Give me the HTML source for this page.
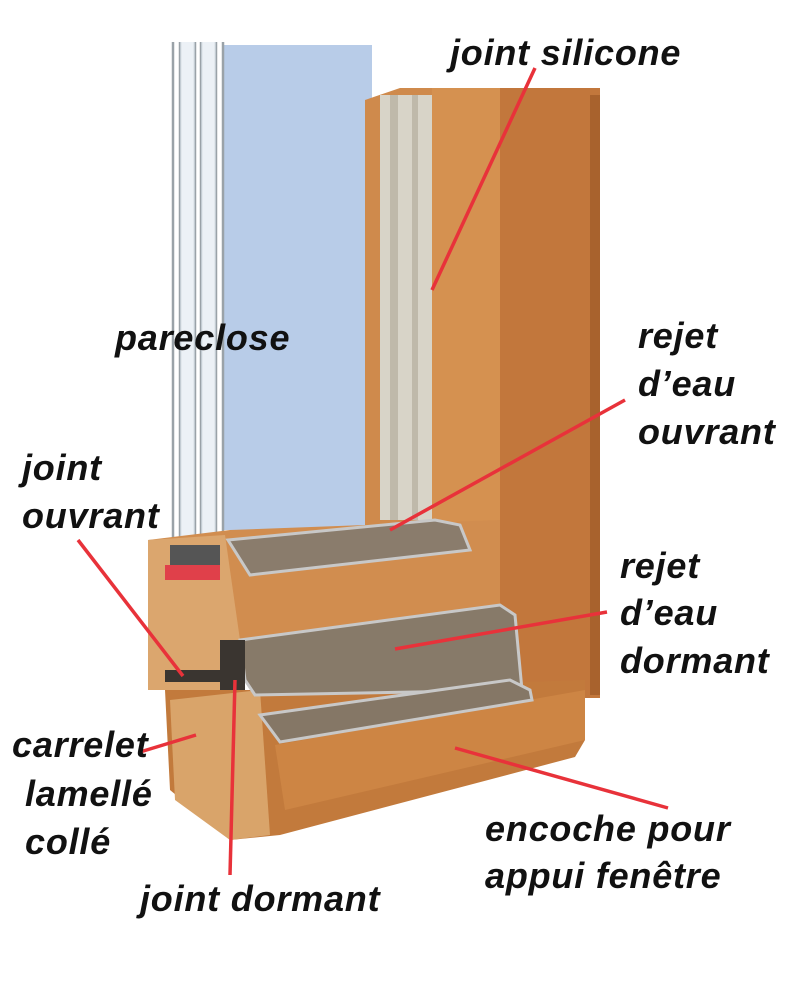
<!DOCTYPE html>
<html><head><meta charset="utf-8"><style>
html,body{margin:0;padding:0;background:#fff}
svg{display:block}
text{font-family:"Liberation Sans",sans-serif;font-style:italic;font-weight:bold;font-size:36px;letter-spacing:0.8px;fill:#111}
</style></head><body>
<svg width="794" height="989" viewBox="0 0 794 989">
<!-- glass -->
<rect x="222" y="45" width="150" height="485" fill="#b8cce8"/>
<g stroke="#9aa2a8" stroke-width="2.5" fill="none">
<line x1="173" y1="42" x2="173" y2="545"/><line x1="180" y1="42" x2="180" y2="545"/>
<line x1="195" y1="42" x2="195" y2="545"/><line x1="201" y1="42" x2="201" y2="545"/>
<line x1="216" y1="42" x2="216" y2="545"/><line x1="223" y1="42" x2="223" y2="545"/>
</g>
<rect x="180" y="42" width="15" height="500" fill="#dfe8f0" opacity=".6"/>
<rect x="201" y="42" width="15" height="500" fill="#dfe8f0" opacity=".6"/>
<!-- outer frame vertical -->
<rect x="500" y="88" width="100" height="610" fill="#c2773c"/>
<rect x="590" y="95" width="10" height="600" fill="#a8622d"/>
<!-- sash vertical -->
<polygon points="365,100 400,88 500,88 500,530 365,530" fill="#cf8a4c"/>
<rect x="380" y="95" width="52" height="425" fill="#d8d4c8"/>
<rect x="390" y="95" width="8" height="425" fill="#bfb9aa"/>
<rect x="412" y="95" width="6" height="425" fill="#bfb9aa"/>
<rect x="432" y="88" width="68" height="440" fill="#d59150"/>
<!-- bottom sash -->
<polygon points="148,540 230,530 500,520 500,640 148,640" fill="#d18d4f"/>
<polygon points="148,540 225,535 240,640 220,690 148,690" fill="#dba66e"/>
<rect x="165" y="565" width="55" height="15" fill="#e0404a"/>
<rect x="170" y="545" width="50" height="20" fill="#555"/>
<!-- bottom frame -->
<polygon points="165,690 280,690 585,680 585,740 575,757 280,835 230,840 170,790" fill="#c27a3c"/>
<polygon points="170,700 260,690 270,835 230,840 175,800" fill="#d9a46a"/>
<polygon points="275,745 585,690 585,740 285,810" fill="#cd8544"/>
<!-- aluminium rails -->
<polygon points="228,540 435,520 460,525 470,550 250,575" fill="#8a7c6c" stroke="#c8c8c8" stroke-width="3"/>
<polygon points="240,640 500,605 515,615 522,690 255,695 245,680" fill="#877a69" stroke="#c8c8c8" stroke-width="3"/>
<polygon points="260,715 510,680 530,690 532,700 280,742" fill="#857766" stroke="#c8c8c8" stroke-width="3"/>
<rect x="165" y="670" width="55" height="12" fill="#3a3530"/>
<rect x="220" y="640" width="25" height="50" fill="#3a3530"/>
<!-- red leader lines -->
<g stroke="#e8323a" stroke-width="3.5" fill="none">
<line x1="535" y1="68" x2="432" y2="290"/>
<line x1="625" y1="400" x2="390" y2="530"/>
<line x1="607" y1="612" x2="395" y2="649"/>
<line x1="78" y1="540" x2="183" y2="676"/>
<line x1="196" y1="735" x2="140" y2="752"/>
<line x1="455" y1="748" x2="668" y2="808"/>
<line x1="235" y1="680" x2="230" y2="875"/>
</g>
<!-- labels -->
<text x="450" y="65">joint silicone</text>
<text x="115" y="350">pareclose</text>
<text x="638" y="348">rejet</text>
<text x="638" y="396">d’eau</text>
<text x="638" y="444">ouvrant</text>
<text x="22" y="480">joint</text>
<text x="22" y="528">ouvrant</text>
<text x="620" y="578">rejet</text>
<text x="620" y="625">d’eau</text>
<text x="620" y="673">dormant</text>
<text x="12" y="757">carrelet</text>
<text x="25" y="806">lamellé</text>
<text x="25" y="854">collé</text>
<text x="485" y="841">encoche pour</text>
<text x="485" y="888">appui fenêtre</text>
<text x="140" y="911">joint dormant</text>
</svg>
</body></html>
